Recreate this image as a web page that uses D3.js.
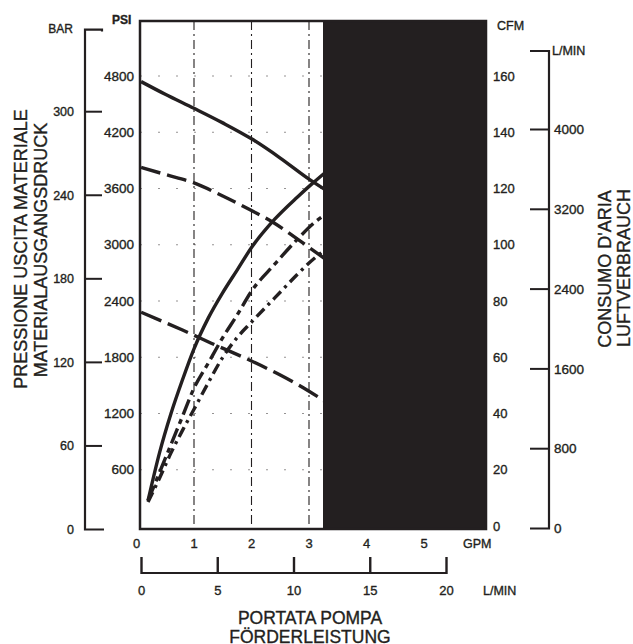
<!DOCTYPE html>
<html lang="en">
<head>
<meta charset="UTF-8">
<title>Portata pompa / Förderleistung</title>
<script src="https://d3js.org/d3.v7.min.js"></script>
<style>
  body { margin: 0; background: #fff; }
  svg { display: block; }
  text { font-family: "Liberation Sans", Arial, sans-serif; fill: #231f20; stroke: #231f20; stroke-width: 0.35px; }
</style>
</head>
<body>
<script>
// tick values of the six scales
const gpmTicks = [0, 1, 2, 3, 4, 5];
const flowLpmTicks = [0, 5, 10, 15, 20];
const barTicks = [0, 60, 120, 180, 240, 300];
const psiTicks = [600, 1200, 1800, 2400, 3000, 3600, 4200, 4800];
const cfmTicks = [0, 20, 40, 60, 80, 100, 120, 140, 160];
const airLpmTicks = [0, 800, 1600, 2400, 3200, 4000];
const gridGpm = [1, 2, 3];

// outlet pressure curves, [gpm, psi]
const pressureHigh = [[0.08, 4740], [0.5, 4605], [1.0, 4455], [1.5, 4300], [2.0, 4130], [2.5, 3925], [3.0, 3700], [3.3, 3580]];
const pressureMid = [[0.08, 3825], [0.5, 3750], [1.0, 3660], [1.5, 3520], [2.0, 3365], [2.4, 3230], [2.8, 3060], [3.3, 2840]];
const pressureLow = [[0.08, 2280], [0.8, 2090], [1.3, 1950], [2.0, 1760], [2.5, 1610], [2.9, 1475], [3.3, 1320]];

// air consumption curves, [gpm, cfm]
const airHigh = [[0.2, 9], [0.4, 26], [0.6, 40], [0.8, 52], [1.0, 63], [1.25, 74], [1.5, 83], [1.75, 91], [2.0, 99], [2.4, 109], [2.8, 117], [3.07, 122], [3.3, 126]];
const airMid = [[0.2, 9], [0.4, 19], [0.6, 29], [0.8, 39], [1.0, 49], [1.25, 58], [1.5, 67], [1.75, 75], [2.0, 83.5], [2.4, 93], [2.8, 102], [3.1, 108], [3.3, 111]];
const airLow = [[0.2, 8.5], [0.4, 17], [0.6, 26], [0.8, 34], [1.0, 41.5], [1.25, 51], [1.5, 60], [1.75, 67], [2.0, 72.5], [2.4, 81], [2.8, 89.5], [3.0, 93.5], [3.3, 98.5]];

const ink = "#231f20";
const W = 633, H = 644;
const frame = { left: 140, right: 486, top: 21, bottom: 529 };

const svg = d3.select("body").append("svg")
  .attr("width", W).attr("height", H);

// scales
const x = d3.scaleLinear().domain([0, 5]).range([136.5, 424]);
const xLpm = d3.scaleLinear().domain([0, 20]).range([141.5, 446.5]);
const yPsi = d3.scaleLinear().domain([0, 4800]).range([526, 76]);
const yCfm = d3.scaleLinear().domain([0, 160]).range([526, 76]);
const yBar = d3.scaleLinear().domain([0, 300]).range([529.5, 111.7]);
const yLpm = d3.scaleLinear().domain([0, 4000]).range([528.5, 129.5]);

// grid
svg.append("g").selectAll("line")
  .data(gridGpm)
  .join("line")
  .attr("x1", d => x(d)).attr("x2", d => x(d))
  .attr("y1", frame.top).attr("y2", frame.bottom)
  .attr("stroke", ink).attr("stroke-width", 1.1)
  .attr("stroke-dasharray", "9,4,2,4");

svg.append("g").selectAll("line")
  .data(psiTicks)
  .join("line")
  .attr("x1", frame.left).attr("x2", frame.right)
  .attr("y1", d => yPsi(d)).attr("y2", d => yPsi(d))
  .attr("stroke", ink).attr("stroke-width", 0.8).attr("opacity", 0.6)
  .attr("stroke-dasharray", "2,16");

// curves
const pLine = d3.line().x(d => x(d[0])).y(d => yPsi(d[1])).curve(d3.curveMonotoneX);
const aLine = d3.line().x(d => x(d[0])).y(d => yCfm(d[1])).curve(d3.curveMonotoneX);

const curves = [
  { data: pressureHigh, gen: pLine, dash: null },
  { data: pressureMid, gen: pLine, dash: "20,7" },
  { data: pressureLow, gen: pLine, dash: "22,7" },
  { data: airHigh, gen: aLine, dash: null },
  { data: airMid, gen: aLine, dash: "16,5,5,5" },
  { data: airLow, gen: aLine, dash: "11,5,3,5" }
];

svg.append("g").selectAll("path")
  .data(curves)
  .join("path")
  .attr("d", d => d.gen(d.data))
  .attr("fill", "none")
  .attr("stroke", ink)
  .attr("stroke-width", 3.4)
  .attr("stroke-dasharray", d => d.dash);

// dark band of the scan
svg.append("rect")
  .attr("x", 323).attr("y", frame.top)
  .attr("width", frame.right - 323).attr("height", frame.bottom - frame.top)
  .attr("fill", ink);

// frame
svg.append("rect")
  .attr("x", frame.left).attr("y", frame.top)
  .attr("width", frame.right - frame.left).attr("height", frame.bottom - frame.top)
  .attr("fill", "none").attr("stroke", ink).attr("stroke-width", 2.5);

// PSI labels (left, inside) and CFM labels (right)
svg.append("g").selectAll("text")
  .data(psiTicks)
  .join("text")
  .attr("x", 134).attr("y", d => yPsi(d)).attr("dy", "0.35em")
  .attr("text-anchor", "end").attr("font-size", 13.5)
  .text(d => d);
svg.append("text").attr("x", 112).attr("y", 24).attr("font-size", 12).attr("font-weight", "bold").text("PSI");

svg.append("g").selectAll("text")
  .data(cfmTicks)
  .join("text")
  .attr("x", 493).attr("y", d => yCfm(d)).attr("dy", "0.35em")
  .attr("font-size", 13)
  .text(d => d);
svg.append("text").attr("x", 497).attr("y", 30).attr("font-size", 12.5).text("CFM");

// BAR axis
const barAxis = svg.append("g");
barAxis.append("path")
  .attr("d", `M102,${yBar(359) + 2}V${yBar(359)}H85V${yBar(0)}H104`)
  .attr("fill", "none").attr("stroke", ink).attr("stroke-width", 2.2);
barAxis.selectAll("line")
  .data(barTicks.filter(d => d > 0))
  .join("line")
  .attr("x1", 85).attr("x2", 102)
  .attr("y1", d => yBar(d)).attr("y2", d => yBar(d))
  .attr("stroke", ink).attr("stroke-width", 2);
barAxis.selectAll("text")
  .data(barTicks)
  .join("text")
  .attr("x", 74).attr("y", d => yBar(d)).attr("dy", "0.35em")
  .attr("text-anchor", "end").attr("font-size", 12.5)
  .text(d => d);
svg.append("text").attr("x", 73).attr("y", 33).attr("text-anchor", "end").attr("font-size", 12).text("BAR");

// air L/MIN axis
const lpmAxis = svg.append("g");
lpmAxis.append("path")
  .attr("d", `M530,${yLpm(4787)}H549V${yLpm(0)}H530`)
  .attr("fill", "none").attr("stroke", ink).attr("stroke-width", 2.2);
lpmAxis.selectAll("line")
  .data(airLpmTicks.filter(d => d > 0))
  .join("line")
  .attr("x1", 530).attr("x2", 549)
  .attr("y1", d => yLpm(d)).attr("y2", d => yLpm(d))
  .attr("stroke", ink).attr("stroke-width", 2);
lpmAxis.selectAll("text")
  .data(airLpmTicks)
  .join("text")
  .attr("x", 554).attr("y", d => yLpm(d)).attr("dy", "0.35em")
  .attr("font-size", 13.5)
  .text(d => d);
svg.append("text").attr("x", 552).attr("y", 55).attr("font-size", 12.5).text("L/MIN");

// GPM labels under the frame
svg.append("g").selectAll("text")
  .data(gpmTicks)
  .join("text")
  .attr("x", d => x(d)).attr("y", 548)
  .attr("text-anchor", "middle").attr("font-size", 13)
  .text(d => d);
svg.append("text").attr("x", 463).attr("y", 548).attr("font-size", 12.5).text("GPM");

// pump flow L/MIN axis
const flowAxis = svg.append("g");
flowAxis.append("line")
  .attr("x1", xLpm(0)).attr("x2", xLpm(20))
  .attr("y1", 573).attr("y2", 573)
  .attr("stroke", ink).attr("stroke-width", 2.2);
flowAxis.selectAll("line.tick")
  .data(flowLpmTicks)
  .join("line")
  .attr("class", "tick")
  .attr("x1", d => xLpm(d)).attr("x2", d => xLpm(d))
  .attr("y1", 557).attr("y2", 574)
  .attr("stroke", ink).attr("stroke-width", 2.4);
flowAxis.selectAll("text")
  .data(flowLpmTicks)
  .join("text")
  .attr("x", d => xLpm(d)).attr("y", 595)
  .attr("text-anchor", "middle").attr("font-size", 13)
  .text(d => d);
svg.append("text").attr("x", 483).attr("y", 595).attr("font-size", 12.5).text("L/MIN");

// axis titles (the second bottom line is cut by the scan edge)
svg.append("text").attr("x", 310).attr("y", 624).attr("text-anchor", "middle").attr("font-size", 17.5).text("PORTATA POMPA");
svg.append("text").attr("x", 310).attr("y", 643).attr("text-anchor", "middle").attr("font-size", 17.5).text("FÖRDERLEISTUNG");

svg.append("text").attr("transform", "translate(27,249) rotate(-90)")
  .attr("text-anchor", "middle").attr("font-size", 18).text("PRESSIONE USCITA MATERIALE");
svg.append("text").attr("transform", "translate(47,250) rotate(-90)")
  .attr("text-anchor", "middle").attr("font-size", 18).text("MATERIALAUSGANGSDRUCK");

svg.append("text").attr("transform", "translate(611,269) rotate(-90)")
  .attr("text-anchor", "middle").attr("font-size", 18).text("CONSUMO D'ARIA");
svg.append("text").attr("transform", "translate(630,268) rotate(-90)")
  .attr("text-anchor", "middle").attr("font-size", 18).text("LUFTVERBRAUCH");
</script>
</body>
</html>
